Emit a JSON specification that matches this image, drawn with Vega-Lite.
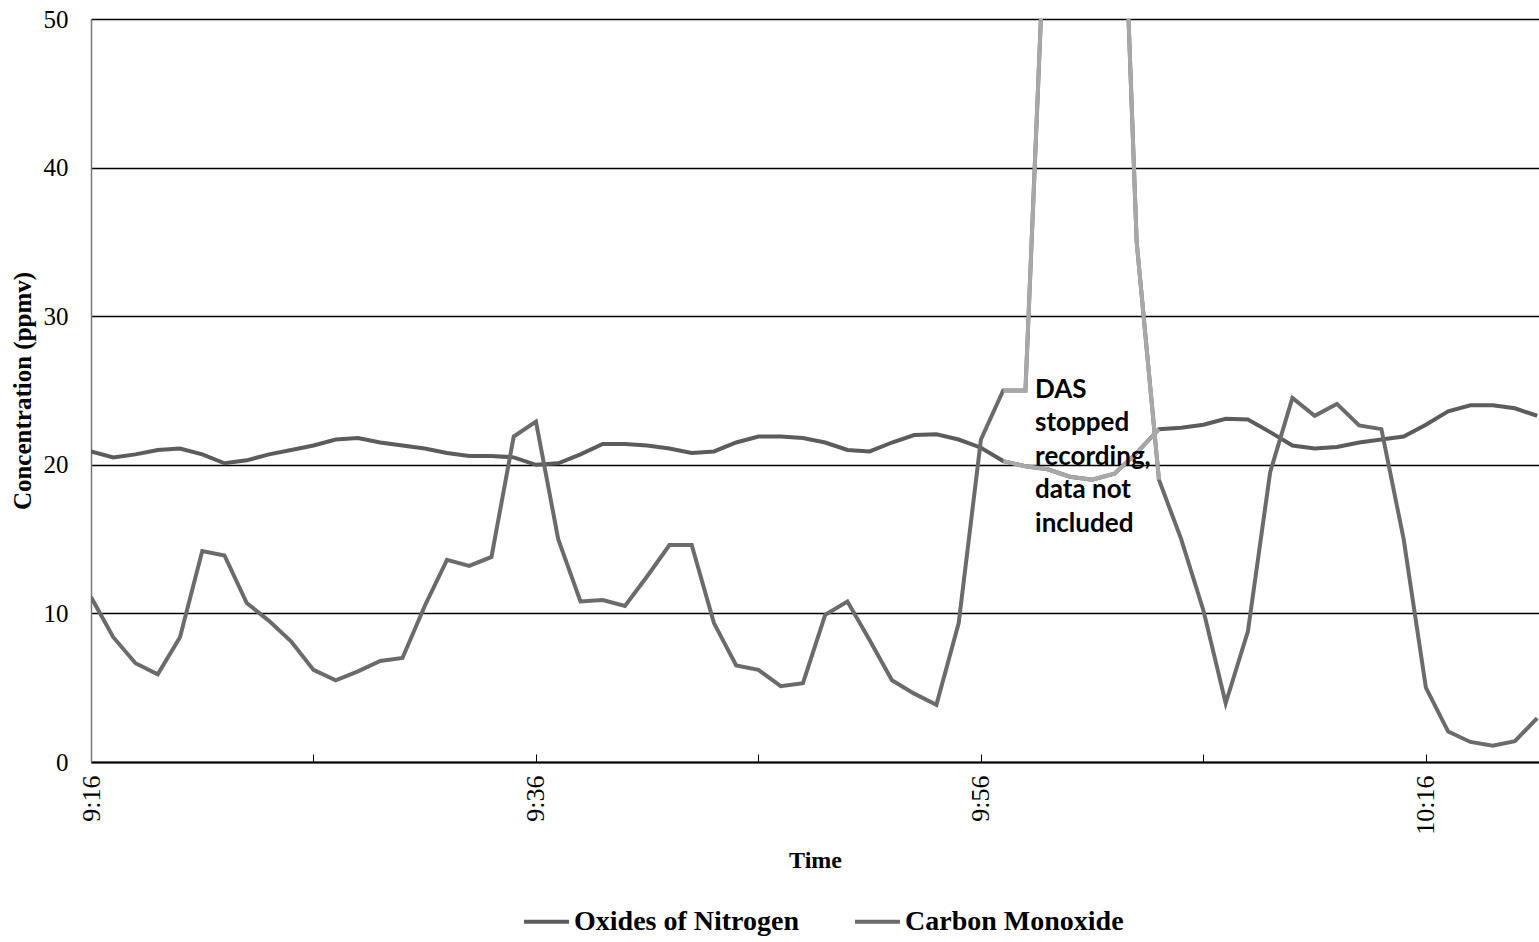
{
  "$schema": "https://vega.github.io/schema/vega-lite/v6.json",
  "width": 1448,
  "height": 743,
  "autosize": {"type": "none"},
  "padding": {"left": 91, "top": 19, "right": 0, "bottom": 180},
  "background": "white",
  "config": {"view": {"stroke": null}, "font": "Liberation Serif"},
  "datasets": {
    "readings": [
      {"time": "2020-01-01T09:16:00", "series": "Oxides of Nitrogen", "ppmv": 20.9, "gap": false},
      {"time": "2020-01-01T09:17:00", "series": "Oxides of Nitrogen", "ppmv": 20.5, "gap": false},
      {"time": "2020-01-01T09:18:00", "series": "Oxides of Nitrogen", "ppmv": 20.7, "gap": false},
      {"time": "2020-01-01T09:19:00", "series": "Oxides of Nitrogen", "ppmv": 21.0, "gap": false},
      {"time": "2020-01-01T09:20:00", "series": "Oxides of Nitrogen", "ppmv": 21.1, "gap": false},
      {"time": "2020-01-01T09:21:00", "series": "Oxides of Nitrogen", "ppmv": 20.7, "gap": false},
      {"time": "2020-01-01T09:22:00", "series": "Oxides of Nitrogen", "ppmv": 20.1, "gap": false},
      {"time": "2020-01-01T09:23:00", "series": "Oxides of Nitrogen", "ppmv": 20.3, "gap": false},
      {"time": "2020-01-01T09:24:00", "series": "Oxides of Nitrogen", "ppmv": 20.7, "gap": false},
      {"time": "2020-01-01T09:25:00", "series": "Oxides of Nitrogen", "ppmv": 21.0, "gap": false},
      {"time": "2020-01-01T09:26:00", "series": "Oxides of Nitrogen", "ppmv": 21.3, "gap": false},
      {"time": "2020-01-01T09:27:00", "series": "Oxides of Nitrogen", "ppmv": 21.7, "gap": false},
      {"time": "2020-01-01T09:28:00", "series": "Oxides of Nitrogen", "ppmv": 21.8, "gap": false},
      {"time": "2020-01-01T09:29:00", "series": "Oxides of Nitrogen", "ppmv": 21.5, "gap": false},
      {"time": "2020-01-01T09:30:00", "series": "Oxides of Nitrogen", "ppmv": 21.3, "gap": false},
      {"time": "2020-01-01T09:31:00", "series": "Oxides of Nitrogen", "ppmv": 21.1, "gap": false},
      {"time": "2020-01-01T09:32:00", "series": "Oxides of Nitrogen", "ppmv": 20.8, "gap": false},
      {"time": "2020-01-01T09:33:00", "series": "Oxides of Nitrogen", "ppmv": 20.6, "gap": false},
      {"time": "2020-01-01T09:34:00", "series": "Oxides of Nitrogen", "ppmv": 20.6, "gap": false},
      {"time": "2020-01-01T09:35:00", "series": "Oxides of Nitrogen", "ppmv": 20.5, "gap": false},
      {"time": "2020-01-01T09:36:00", "series": "Oxides of Nitrogen", "ppmv": 20.0, "gap": false},
      {"time": "2020-01-01T09:37:00", "series": "Oxides of Nitrogen", "ppmv": 20.1, "gap": false},
      {"time": "2020-01-01T09:38:00", "series": "Oxides of Nitrogen", "ppmv": 20.7, "gap": false},
      {"time": "2020-01-01T09:39:00", "series": "Oxides of Nitrogen", "ppmv": 21.4, "gap": false},
      {"time": "2020-01-01T09:40:00", "series": "Oxides of Nitrogen", "ppmv": 21.4, "gap": false},
      {"time": "2020-01-01T09:41:00", "series": "Oxides of Nitrogen", "ppmv": 21.3, "gap": false},
      {"time": "2020-01-01T09:42:00", "series": "Oxides of Nitrogen", "ppmv": 21.1, "gap": false},
      {"time": "2020-01-01T09:43:00", "series": "Oxides of Nitrogen", "ppmv": 20.8, "gap": false},
      {"time": "2020-01-01T09:44:00", "series": "Oxides of Nitrogen", "ppmv": 20.9, "gap": false},
      {"time": "2020-01-01T09:45:00", "series": "Oxides of Nitrogen", "ppmv": 21.5, "gap": false},
      {"time": "2020-01-01T09:46:00", "series": "Oxides of Nitrogen", "ppmv": 21.9, "gap": false},
      {"time": "2020-01-01T09:47:00", "series": "Oxides of Nitrogen", "ppmv": 21.9, "gap": false},
      {"time": "2020-01-01T09:48:00", "series": "Oxides of Nitrogen", "ppmv": 21.8, "gap": false},
      {"time": "2020-01-01T09:49:00", "series": "Oxides of Nitrogen", "ppmv": 21.5, "gap": false},
      {"time": "2020-01-01T09:50:00", "series": "Oxides of Nitrogen", "ppmv": 21.0, "gap": false},
      {"time": "2020-01-01T09:51:00", "series": "Oxides of Nitrogen", "ppmv": 20.9, "gap": false},
      {"time": "2020-01-01T09:52:00", "series": "Oxides of Nitrogen", "ppmv": 21.5, "gap": false},
      {"time": "2020-01-01T09:53:00", "series": "Oxides of Nitrogen", "ppmv": 22.0, "gap": false},
      {"time": "2020-01-01T09:54:00", "series": "Oxides of Nitrogen", "ppmv": 22.05, "gap": false},
      {"time": "2020-01-01T09:55:00", "series": "Oxides of Nitrogen", "ppmv": 21.7, "gap": false},
      {"time": "2020-01-01T09:56:00", "series": "Oxides of Nitrogen", "ppmv": 21.15, "gap": false},
      {"time": "2020-01-01T09:57:00", "series": "Oxides of Nitrogen", "ppmv": 20.25, "gap": true},
      {"time": "2020-01-01T09:58:00", "series": "Oxides of Nitrogen", "ppmv": 19.9, "gap": true},
      {"time": "2020-01-01T09:59:00", "series": "Oxides of Nitrogen", "ppmv": 19.7, "gap": true},
      {"time": "2020-01-01T10:00:00", "series": "Oxides of Nitrogen", "ppmv": 19.2, "gap": true},
      {"time": "2020-01-01T10:01:00", "series": "Oxides of Nitrogen", "ppmv": 19.0, "gap": true},
      {"time": "2020-01-01T10:02:00", "series": "Oxides of Nitrogen", "ppmv": 19.4, "gap": true},
      {"time": "2020-01-01T10:03:00", "series": "Oxides of Nitrogen", "ppmv": 20.8, "gap": true},
      {"time": "2020-01-01T10:04:00", "series": "Oxides of Nitrogen", "ppmv": 22.4, "gap": true},
      {"time": "2020-01-01T10:05:00", "series": "Oxides of Nitrogen", "ppmv": 22.5, "gap": false},
      {"time": "2020-01-01T10:06:00", "series": "Oxides of Nitrogen", "ppmv": 22.7, "gap": false},
      {"time": "2020-01-01T10:07:00", "series": "Oxides of Nitrogen", "ppmv": 23.1, "gap": false},
      {"time": "2020-01-01T10:08:00", "series": "Oxides of Nitrogen", "ppmv": 23.05, "gap": false},
      {"time": "2020-01-01T10:09:00", "series": "Oxides of Nitrogen", "ppmv": 22.2, "gap": false},
      {"time": "2020-01-01T10:10:00", "series": "Oxides of Nitrogen", "ppmv": 21.3, "gap": false},
      {"time": "2020-01-01T10:11:00", "series": "Oxides of Nitrogen", "ppmv": 21.1, "gap": false},
      {"time": "2020-01-01T10:12:00", "series": "Oxides of Nitrogen", "ppmv": 21.2, "gap": false},
      {"time": "2020-01-01T10:13:00", "series": "Oxides of Nitrogen", "ppmv": 21.5, "gap": false},
      {"time": "2020-01-01T10:14:00", "series": "Oxides of Nitrogen", "ppmv": 21.7, "gap": false},
      {"time": "2020-01-01T10:15:00", "series": "Oxides of Nitrogen", "ppmv": 21.9, "gap": false},
      {"time": "2020-01-01T10:16:00", "series": "Oxides of Nitrogen", "ppmv": 22.7, "gap": false},
      {"time": "2020-01-01T10:17:00", "series": "Oxides of Nitrogen", "ppmv": 23.6, "gap": false},
      {"time": "2020-01-01T10:18:00", "series": "Oxides of Nitrogen", "ppmv": 24.0, "gap": false},
      {"time": "2020-01-01T10:19:00", "series": "Oxides of Nitrogen", "ppmv": 24.0, "gap": false},
      {"time": "2020-01-01T10:20:00", "series": "Oxides of Nitrogen", "ppmv": 23.8, "gap": false},
      {"time": "2020-01-01T10:21:00", "series": "Oxides of Nitrogen", "ppmv": 23.3, "gap": false},
      {"time": "2020-01-01T09:16:00", "series": "Carbon Monoxide", "ppmv": 11.1, "gap": false},
      {"time": "2020-01-01T09:17:00", "series": "Carbon Monoxide", "ppmv": 8.4, "gap": false},
      {"time": "2020-01-01T09:18:00", "series": "Carbon Monoxide", "ppmv": 6.65, "gap": false},
      {"time": "2020-01-01T09:19:00", "series": "Carbon Monoxide", "ppmv": 5.9, "gap": false},
      {"time": "2020-01-01T09:20:00", "series": "Carbon Monoxide", "ppmv": 8.4, "gap": false},
      {"time": "2020-01-01T09:21:00", "series": "Carbon Monoxide", "ppmv": 14.2, "gap": false},
      {"time": "2020-01-01T09:22:00", "series": "Carbon Monoxide", "ppmv": 13.9, "gap": false},
      {"time": "2020-01-01T09:23:00", "series": "Carbon Monoxide", "ppmv": 10.7, "gap": false},
      {"time": "2020-01-01T09:24:00", "series": "Carbon Monoxide", "ppmv": 9.5, "gap": false},
      {"time": "2020-01-01T09:25:00", "series": "Carbon Monoxide", "ppmv": 8.1, "gap": false},
      {"time": "2020-01-01T09:26:00", "series": "Carbon Monoxide", "ppmv": 6.2, "gap": false},
      {"time": "2020-01-01T09:27:00", "series": "Carbon Monoxide", "ppmv": 5.5, "gap": false},
      {"time": "2020-01-01T09:28:00", "series": "Carbon Monoxide", "ppmv": 6.1, "gap": false},
      {"time": "2020-01-01T09:29:00", "series": "Carbon Monoxide", "ppmv": 6.8, "gap": false},
      {"time": "2020-01-01T09:30:00", "series": "Carbon Monoxide", "ppmv": 7.0, "gap": false},
      {"time": "2020-01-01T09:31:00", "series": "Carbon Monoxide", "ppmv": 10.5, "gap": false},
      {"time": "2020-01-01T09:32:00", "series": "Carbon Monoxide", "ppmv": 13.6, "gap": false},
      {"time": "2020-01-01T09:33:00", "series": "Carbon Monoxide", "ppmv": 13.2, "gap": false},
      {"time": "2020-01-01T09:34:00", "series": "Carbon Monoxide", "ppmv": 13.8, "gap": false},
      {"time": "2020-01-01T09:35:00", "series": "Carbon Monoxide", "ppmv": 21.9, "gap": false},
      {"time": "2020-01-01T09:36:00", "series": "Carbon Monoxide", "ppmv": 22.9, "gap": false},
      {"time": "2020-01-01T09:37:00", "series": "Carbon Monoxide", "ppmv": 15.0, "gap": false},
      {"time": "2020-01-01T09:38:00", "series": "Carbon Monoxide", "ppmv": 10.8, "gap": false},
      {"time": "2020-01-01T09:39:00", "series": "Carbon Monoxide", "ppmv": 10.9, "gap": false},
      {"time": "2020-01-01T09:40:00", "series": "Carbon Monoxide", "ppmv": 10.5, "gap": false},
      {"time": "2020-01-01T09:41:00", "series": "Carbon Monoxide", "ppmv": 12.5, "gap": false},
      {"time": "2020-01-01T09:42:00", "series": "Carbon Monoxide", "ppmv": 14.6, "gap": false},
      {"time": "2020-01-01T09:43:00", "series": "Carbon Monoxide", "ppmv": 14.6, "gap": false},
      {"time": "2020-01-01T09:44:00", "series": "Carbon Monoxide", "ppmv": 9.35, "gap": false},
      {"time": "2020-01-01T09:45:00", "series": "Carbon Monoxide", "ppmv": 6.5, "gap": false},
      {"time": "2020-01-01T09:46:00", "series": "Carbon Monoxide", "ppmv": 6.2, "gap": false},
      {"time": "2020-01-01T09:47:00", "series": "Carbon Monoxide", "ppmv": 5.1, "gap": false},
      {"time": "2020-01-01T09:48:00", "series": "Carbon Monoxide", "ppmv": 5.3, "gap": false},
      {"time": "2020-01-01T09:49:00", "series": "Carbon Monoxide", "ppmv": 9.9, "gap": false},
      {"time": "2020-01-01T09:50:00", "series": "Carbon Monoxide", "ppmv": 10.8, "gap": false},
      {"time": "2020-01-01T09:51:00", "series": "Carbon Monoxide", "ppmv": 8.2, "gap": false},
      {"time": "2020-01-01T09:52:00", "series": "Carbon Monoxide", "ppmv": 5.5, "gap": false},
      {"time": "2020-01-01T09:53:00", "series": "Carbon Monoxide", "ppmv": 4.6, "gap": false},
      {"time": "2020-01-01T09:54:00", "series": "Carbon Monoxide", "ppmv": 3.85, "gap": false},
      {"time": "2020-01-01T09:55:00", "series": "Carbon Monoxide", "ppmv": 9.35, "gap": false},
      {"time": "2020-01-01T09:56:00", "series": "Carbon Monoxide", "ppmv": 21.7, "gap": false},
      {"time": "2020-01-01T09:57:00", "series": "Carbon Monoxide", "ppmv": 25.0, "gap": true},
      {"time": "2020-01-01T09:58:00", "series": "Carbon Monoxide", "ppmv": 25.0, "gap": true},
      {"time": "2020-01-01T09:59:00", "series": "Carbon Monoxide", "ppmv": 61, "gap": true},
      {"time": "2020-01-01T10:00:00", "series": "Carbon Monoxide", "ppmv": 82, "gap": true},
      {"time": "2020-01-01T10:01:00", "series": "Carbon Monoxide", "ppmv": 85, "gap": true},
      {"time": "2020-01-01T10:02:00", "series": "Carbon Monoxide", "ppmv": 76, "gap": true},
      {"time": "2020-01-01T10:03:00", "series": "Carbon Monoxide", "ppmv": 35, "gap": true},
      {"time": "2020-01-01T10:04:00", "series": "Carbon Monoxide", "ppmv": 19.0, "gap": true},
      {"time": "2020-01-01T10:05:00", "series": "Carbon Monoxide", "ppmv": 15.0, "gap": false},
      {"time": "2020-01-01T10:06:00", "series": "Carbon Monoxide", "ppmv": 10.2, "gap": false},
      {"time": "2020-01-01T10:07:00", "series": "Carbon Monoxide", "ppmv": 3.95, "gap": false},
      {"time": "2020-01-01T10:08:00", "series": "Carbon Monoxide", "ppmv": 8.8, "gap": false},
      {"time": "2020-01-01T10:09:00", "series": "Carbon Monoxide", "ppmv": 19.5, "gap": false},
      {"time": "2020-01-01T10:10:00", "series": "Carbon Monoxide", "ppmv": 24.5, "gap": false},
      {"time": "2020-01-01T10:11:00", "series": "Carbon Monoxide", "ppmv": 23.3, "gap": false},
      {"time": "2020-01-01T10:12:00", "series": "Carbon Monoxide", "ppmv": 24.1, "gap": false},
      {"time": "2020-01-01T10:13:00", "series": "Carbon Monoxide", "ppmv": 22.65, "gap": false},
      {"time": "2020-01-01T10:14:00", "series": "Carbon Monoxide", "ppmv": 22.4, "gap": false},
      {"time": "2020-01-01T10:15:00", "series": "Carbon Monoxide", "ppmv": 15.0, "gap": false},
      {"time": "2020-01-01T10:16:00", "series": "Carbon Monoxide", "ppmv": 5.0, "gap": false},
      {"time": "2020-01-01T10:17:00", "series": "Carbon Monoxide", "ppmv": 2.05, "gap": false},
      {"time": "2020-01-01T10:18:00", "series": "Carbon Monoxide", "ppmv": 1.35, "gap": false},
      {"time": "2020-01-01T10:19:00", "series": "Carbon Monoxide", "ppmv": 1.1, "gap": false},
      {"time": "2020-01-01T10:20:00", "series": "Carbon Monoxide", "ppmv": 1.4, "gap": false},
      {"time": "2020-01-01T10:21:00", "series": "Carbon Monoxide", "ppmv": 2.95, "gap": false}
    ],
    "note": [
      {"time": "2020-01-01T09:58:26", "ppmv": 24.5, "label": ["DAS", "stopped", "recording,", "data not", "included"]}
    ]
  },
  "encoding": {
    "x": {
      "field": "time",
      "type": "temporal",
      "title": "Time",
      "scale": {"domain": [
        {"year": 2020, "month": 1, "date": 1, "hours": 9, "minutes": 16},
        {"year": 2020, "month": 1, "date": 1, "hours": 10, "minutes": 21, "seconds": 5}
      ]},
      "axis": {
        "values": [
          {"year": 2020, "month": 1, "date": 1, "hours": 9, "minutes": 16},
          {"year": 2020, "month": 1, "date": 1, "hours": 9, "minutes": 26},
          {"year": 2020, "month": 1, "date": 1, "hours": 9, "minutes": 36},
          {"year": 2020, "month": 1, "date": 1, "hours": 9, "minutes": 46},
          {"year": 2020, "month": 1, "date": 1, "hours": 9, "minutes": 56},
          {"year": 2020, "month": 1, "date": 1, "hours": 10, "minutes": 6},
          {"year": 2020, "month": 1, "date": 1, "hours": 10, "minutes": 16}
        ],
        "format": "%-H:%M",
        "labelOpacity": {"condition": {"test": "minutes(datum.value) % 20 == 16", "value": 1}, "value": 0},
        "labelAngle": 270,
        "labelAlign": "right",
        "labelBaseline": "middle",
        "labelFont": "Liberation Serif",
        "labelFontSize": 26,
        "labelColor": "black",
        "labelPadding": 21,
        "labelOverlap": false,
        "labelFlush": false,
        "labelBound": false,
        "tickSize": -8,
        "tickColor": "black",
        "tickWidth": 1,
        "domainColor": "black",
        "domainWidth": 2,
        "grid": false,
        "titleFont": "Liberation Serif",
        "titleFontSize": 24,
        "titleFontWeight": "bold",
        "titleColor": "black",
        "titleY": 98,
        "titleBaseline": "middle"
      }
    },
    "y": {
      "field": "ppmv",
      "type": "quantitative",
      "title": "Concentration (ppmv)",
      "scale": {"domain": [0, 50], "nice": false},
      "axis": {
        "values": [0, 10, 20, 30, 40, 50],
        "grid": true,
        "gridColor": "black",
        "gridWidth": 1.5,
        "gridOpacity": 1,
        "ticks": false,
        "labelPadding": 23,
        "labelFont": "Liberation Serif",
        "labelFontSize": 25,
        "labelColor": "black",
        "domainColor": "#777777",
        "domainWidth": 1.5,
        "titleFont": "Liberation Serif",
        "titleFontSize": 25,
        "titleFontWeight": "bold",
        "titleColor": "black",
        "titleX": -69,
        "titleY": 371.5,
        "titleAngle": 270,
        "titleAlign": "center",
        "titleBaseline": "middle"
      }
    }
  },
  "layer": [
    {
      "data": {"name": "readings"},
      "mark": {"type": "line", "strokeWidth": 4, "clip": true},
      "encoding": {
        "color": {
          "field": "series",
          "type": "nominal",
          "scale": {"domain": ["Oxides of Nitrogen", "Carbon Monoxide"], "range": ["#5c5c5c", "#6b6b6b"]},
          "legend": {
            "orient": "none",
            "legendX": 431,
            "legendY": 878,
            "direction": "horizontal",
            "title": null,
            "symbolType": "stroke",
            "symbolSize": 2025,
            "symbolStrokeWidth": 4,
            "labelFont": "Liberation Serif",
            "labelFontSize": 28,
            "labelFontWeight": "bold",
            "labelColor": "black",
            "labelLimit": 400,
            "labelOffset": 3,
            "columnPadding": 47
          }
        }
      }
    },
    {
      "data": {"name": "readings"},
      "transform": [{"filter": "datum.gap"}],
      "mark": {"type": "line", "strokeWidth": 4, "clip": true, "color": "#a8a8a8"},
      "encoding": {
        "detail": {"field": "series", "type": "nominal"}
      }
    },
    {
      "data": {"name": "note"},
      "mark": {"type": "text", "font": "Lato", "fontWeight": "bold", "fontSize": 26, "lineHeight": 33.5, "align": "left", "baseline": "alphabetic", "color": "black"},
      "encoding": {
        "text": {"field": "label", "type": "nominal"}
      }
    }
  ]
}
